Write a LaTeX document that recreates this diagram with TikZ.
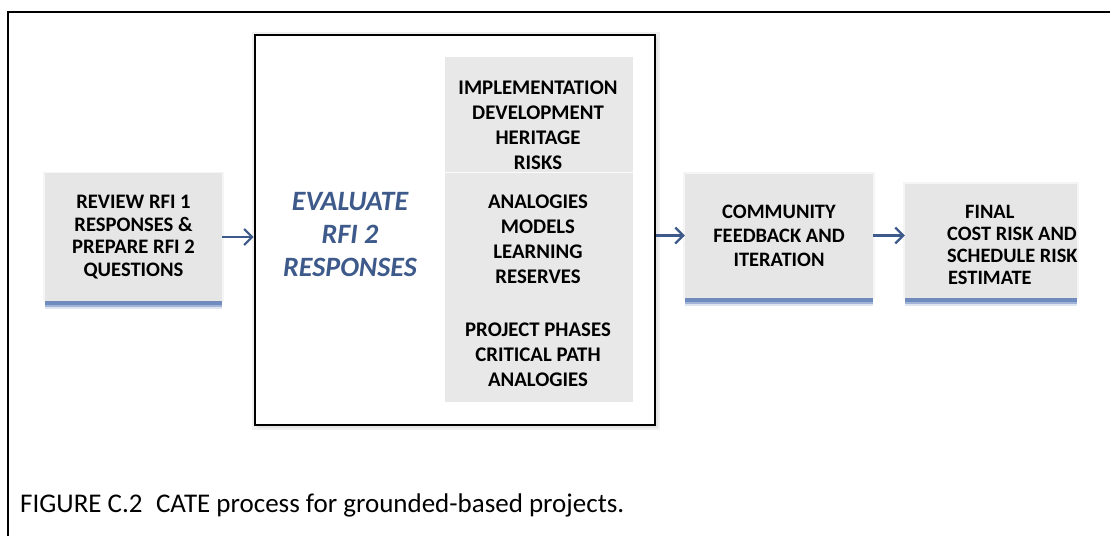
\documentclass[tikz,border=0pt]{standalone}
\usepackage{fontspec}
\setmainfont{Carlito}
\usetikzlibrary{arrows.meta,shadows}
\definecolor{evblue}{HTML}{3D5A8A}
\definecolor{boxgray}{HTML}{E6E6E6}
\definecolor{panelgray}{HTML}{E8E8E8}
\definecolor{shadowblue}{HTML}{5B7BB8}
\tikzset{
  procbox/.style={fill=boxgray, draw=none, align=center, inner sep=0pt,
    font=\bfseries\fontsize{20.5}{23}\selectfont,
    general shadow={shadow xshift=0pt, shadow yshift=-8pt, fill=shadowblue, opacity=0.2},
    general shadow={shadow xshift=0pt, shadow yshift=-6pt, fill=shadowblue, opacity=0.45},
    general shadow={shadow xshift=0pt, shadow yshift=-4pt, fill=shadowblue, opacity=0.7},
    general shadow={shadow scale=1.02, fill=gray, opacity=0.08}},
  paneltext/.style={align=center, inner sep=0pt, font=\bfseries\fontsize{20.8}{25}\selectfont},
  flow/.style={draw=evblue, line width=2.4pt, -{Straight Barb[length=8pt,width=16pt,line width=2.2pt]}},
}
\begin{document}
\begin{tikzpicture}[x=1pt,y=-1pt]
\useasboundingbox (0,0) rectangle (1110,536);
\fill[white] (0,0) rectangle (1110,536);
\draw[line width=1.6pt] (8,536) -- (8,12) -- (1110,12);

% big evaluation box
\fill[gray!12] (252,32) rectangle (660,430);
\fill[gray!20] (257,37) rectangle (658,428);
\node[draw=black, line width=2.6pt, fill=white, minimum width=400pt, minimum height=390pt, inner sep=0pt] (big) at (455,230) {};
\fill[panelgray] (445,57) rectangle (633,402);
\draw[white!85!panelgray, line width=0.8pt] (445,172) -- (633,172);

\node[align=center, inner sep=0pt, text=evblue, font=\bfseries\itshape\fontsize{28}{33}\selectfont] (eval) at (350,235) {EVALUATE\\RFI 2\\RESPONSES};

\node[paneltext] (p1) at (538,125) {IMPLEMENTATION\\DEVELOPMENT\\HERITAGE\\RISKS};
\node[paneltext] (p2) at (538,239.5) {ANALOGIES\\MODELS\\LEARNING\\RESERVES};
\node[paneltext] (p3) at (538,355) {PROJECT PHASES\\CRITICAL PATH\\ANALOGIES};

% process boxes
\node[procbox, minimum width=177pt, minimum height=128pt, font=\bfseries\fontsize{20.6}{22.5}\selectfont] (review) at (133.5,237) {REVIEW RFI 1\\RESPONSES \&\\PREPARE RFI 2\\QUESTIONS};
\node[procbox, minimum width=188pt, minimum height=124pt, font=\bfseries\fontsize{20.5}{24}\selectfont] (community) at (779,235.5) {COMMUNITY\\FEEDBACK AND\\ITERATION};
\node[procbox, minimum width=172pt, minimum height=114pt] (final) at (991,240.5) {};
\node[anchor=west, align=left, inner sep=0pt, font=\bfseries\fontsize{20.4}{22}\selectfont] (finaltext) at (947,244.5) {\hspace*{18pt}FINAL\\COST RISK AND\\SCHEDULE RISK\\\hspace*{1pt}ESTIMATE};

% connectors
\draw[flow] (review.east) -- (review.east -| big.west);
\draw[flow] (big.east |- community.west) -- (community.west);
\draw[flow] (community.east) -- (community.east -| final.west);

\node[anchor=west, inner sep=0pt, font=\fontsize{27}{30}\selectfont] (caption) at (20,505) {FIGURE C.2\hspace{0.5em}CATE process for grounded-based projects.};
\end{tikzpicture}
\end{document}
